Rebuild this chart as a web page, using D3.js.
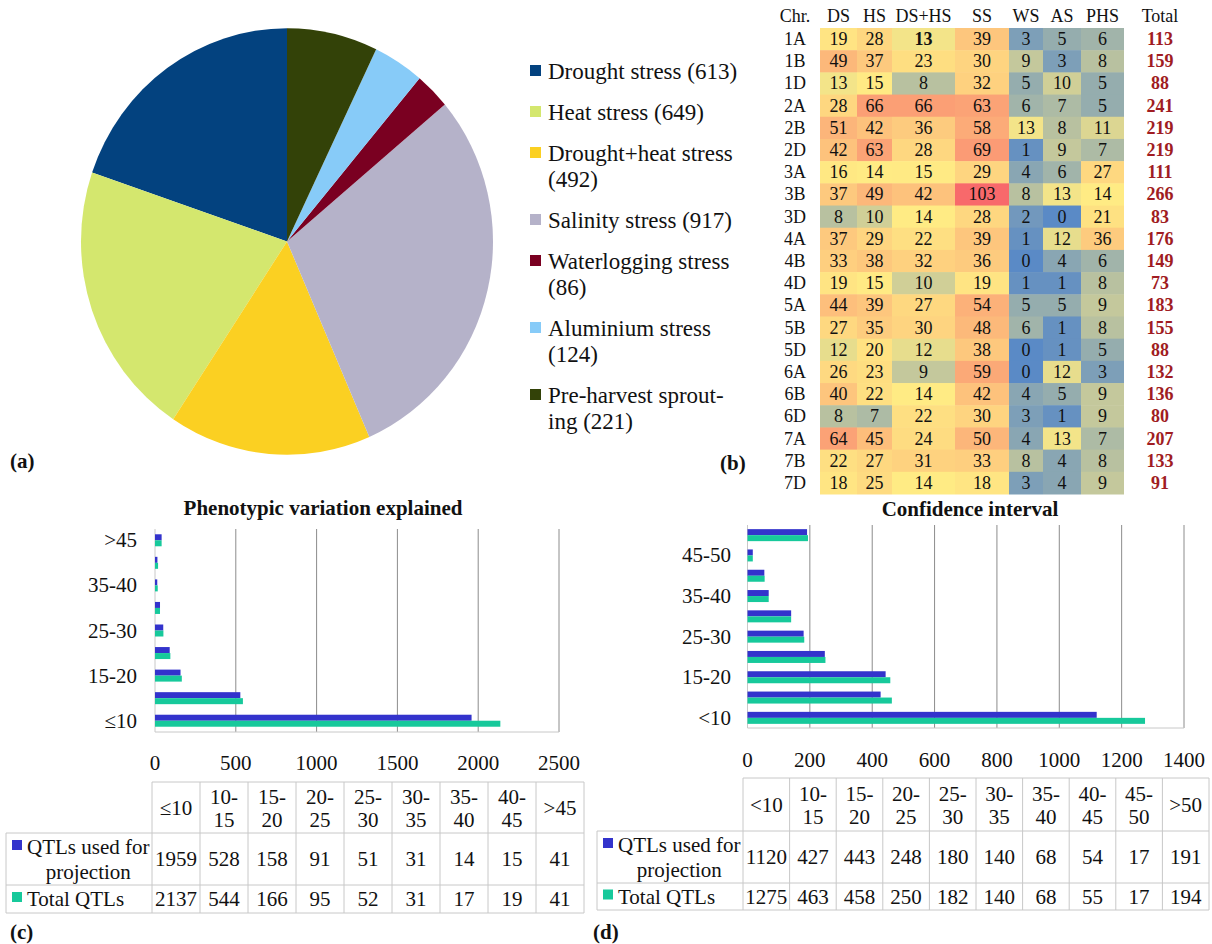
<!DOCTYPE html>
<html>
<head>
<meta charset="utf-8">
<script src="https://cdn.jsdelivr.net/npm/d3@7"></script>
<style>
  body { margin: 0; background: #fff; }
  svg { display: block; }
  text { font-family: "Liberation Serif", "Times New Roman", serif; fill: #111; }
</style>
</head>
<body>
<svg id="fig" width="1212" height="944" font-family="Liberation Serif, Times New Roman, serif"></svg>
<script>
// ---------- (a) QTL counts per stress ----------
const stressNames  = ["Drought stress", "Heat stress", "Drought+heat stress", "Salinity stress",
                      "Waterlogging stress", "Aluminium stress", "Pre-harvest sprouting"];
const stressCounts = [613, 649, 492, 917, 86, 124, 221];
const stressColors = ["#03427f", "#d4e76e", "#fbd022", "#b5b2c9", "#7a0021", "#87cbf8", "#334208"];
// legend wording, "{n}" is replaced with the count
const legendText = [
  ["Drought stress ({n})"],
  ["Heat stress ({n})"],
  ["Drought+heat stress", "({n})"],
  ["Salinity stress ({n})"],
  ["Waterlogging stress", "({n})"],
  ["Aluminium stress", "({n})"],
  ["Pre-harvest sprout-", "ing ({n})"]
];

// ---------- (b) QTLs per chromosome and stress ----------
const chromosomes = ["1A","1B","1D","2A","2B","2D","3A","3B","3D","4A","4B","4D",
                     "5A","5B","5D","6A","6B","6D","7A","7B","7D"];
const stressCodes = ["DS", "HS", "DS+HS", "SS", "WS", "AS", "PHS"];
const qtlDS   = [19,49,13,28,51,42,16,37, 8,37,33,19,44,27,12,26,40, 8,64,22,18];
const qtlHS   = [28,37,15,66,42,63,14,49,10,29,38,15,39,35,20,23,22, 7,45,27,25];
const qtlDSHS = [13,23, 8,66,36,28,15,42,14,22,32,10,27,30,12, 9,14,22,24,31,14];
const qtlSS   = [39,30,32,63,58,69,29,103,28,39,36,19,54,48,38,59,42,30,50,33,18];
const qtlWS   = [ 3, 9, 5, 6,13, 1, 4, 8, 2, 1, 0, 1, 5, 6, 0, 0, 4, 3, 4, 8, 3];
const qtlAS   = [ 5, 3,10, 7, 8, 9, 6,13, 0,12, 4, 1, 5, 1, 1,12, 5, 1,13, 4, 4];
const qtlPHS  = [ 6, 8, 5, 5,11, 7,27,14,21,36, 6, 8, 9, 8, 5, 3, 9, 9, 7, 8, 9];
const boldCells = [["1A", "DS+HS"]];

// ---------- (c) phenotypic variation explained ----------
const pveBins      = ["≤10","10-15","15-20","20-25","25-30","30-35","35-40","40-45",">45"];
const pveProjected = [1959, 528, 158, 91, 51, 31, 14, 15, 41];
const pveTotal     = [2137, 544, 166, 95, 52, 31, 17, 19, 41];

// ---------- (d) confidence interval ----------
const ciBins      = ["<10","10-15","15-20","20-25","25-30","30-35","35-40","40-45","45-50",">50"];
const ciProjected = [1120, 427, 443, 248, 180, 140, 68, 54, 17, 191];
const ciTotal     = [1275, 463, 458, 250, 182, 140, 68, 55, 17, 194];

const seriesNames  = ["QTLs used for projection", "Total QTLs"];
const seriesColors = ["#3333cc", "#17c99b"];

const svg = d3.select("#fig");

// ================= (a) pie =================
(function drawPie() {
  const cx = 287, cy = 241.5, r = 206;
  const pie = d3.pie().sort(null).value(d => d)
    .startAngle(2 * Math.PI).endAngle(0);          // counter-clockwise from 12 o'clock
  const arc = d3.arc().innerRadius(0).outerRadius(r);
  const g = svg.append("g").attr("transform", `translate(${cx},${cy}) scale(1,1.035)`);
  g.selectAll("path").data(pie(stressCounts)).join("path")
    .attr("d", arc)
    .attr("fill", (d, i) => stressColors[i]);

  // legend
  const lg = svg.append("g");
  let y = 71;
  legendText.forEach((lines, i) => {
    lg.append("rect").attr("x", 530).attr("y", y - 6).attr("width", 11).attr("height", 11)
      .attr("fill", stressColors[i]);
    lines.forEach((ln, k) => {
      lg.append("text").attr("x", 548).attr("y", y + k * 26 + 8)
        .style("font-size", "23px")
        .text(ln.replace("{n}", stressCounts[i]));
    });
    y += 41 + 26 * (lines.length - 1);
  });
})();

// ================= (b) heat map =================
(function drawHeatmap() {
  const columns = [qtlDS, qtlHS, qtlDSHS, qtlSS, qtlWS, qtlAS, qtlPHS];
  const edges = [820, 857, 892, 955, 1009, 1043, 1081, 1124];
  const xStart = d3.scaleOrdinal().domain(stressCodes).range(edges.slice(0, -1));
  const xEnd   = d3.scaleOrdinal().domain(stressCodes).range(edges.slice(1));
  const y = d3.scaleBand().domain(chromosomes).range([28, 494]);
  const labelX = 795, totalX = 1160, fs = "18px";

  const all = columns.flat().sort(d3.ascending);
  const color = d3.scaleLinear()
    .domain([all[0], d3.quantileSorted(all, 0.5), all[all.length - 1]])
    .range(["#5a8ac6", "#ffeb84", "#f8696b"])
    .interpolate(d3.interpolateRgb);

  const cells = [];
  chromosomes.forEach((c, ri) => stressCodes.forEach((s, ci) =>
    cells.push({ chr: c, code: s, v: columns[ci][ri] })));

  const g = svg.append("g");
  g.selectAll("rect").data(cells).join("rect")
    .attr("x", d => xStart(d.code))
    .attr("y", d => y(d.chr))
    .attr("width", d => xEnd(d.code) - xStart(d.code))
    .attr("height", y.bandwidth() + 0.5)
    .attr("fill", d => color(d.v));

  const isBold = d => boldCells.some(b => b[0] === d.chr && b[1] === d.code);
  g.selectAll("text.v").data(cells).join("text").attr("class", "v")
    .attr("x", d => (xStart(d.code) + xEnd(d.code)) / 2)
    .attr("y", d => y(d.chr) + y.bandwidth() / 2 + 6)
    .attr("text-anchor", "middle")
    .style("font-size", fs)
    .style("font-weight", d => isBold(d) ? "bold" : "normal")
    .text(d => d.v);

  // headers
  const hy = 22;
  g.append("text").attr("x", labelX).attr("y", hy).attr("text-anchor", "middle")
    .style("font-size", fs).text("Chr.");
  stressCodes.forEach(s => g.append("text")
    .attr("x", (xStart(s) + xEnd(s)) / 2).attr("y", hy).attr("text-anchor", "middle")
    .style("font-size", fs).text(s));
  g.append("text").attr("x", totalX).attr("y", hy).attr("text-anchor", "middle")
    .style("font-size", fs).text("Total");

  // row labels and totals
  chromosomes.forEach((c, ri) => {
    const cy = y(c) + y.bandwidth() / 2 + 6;
    g.append("text").attr("x", labelX).attr("y", cy).attr("text-anchor", "middle")
      .style("font-size", fs).text(c);
    g.append("text").attr("x", totalX).attr("y", cy).attr("text-anchor", "middle")
      .style("font-size", fs).style("font-weight", "bold").style("fill", "#a01c22")
      .text(d3.sum(columns, col => col[ri]));
  });
})();

// ================= (c), (d) bar charts with data tables =================
function barPanel(o) {
  const g = svg.append("g");
  const x = d3.scaleLinear().domain([0, o.max]).range([o.x0, o.x1]);
  const y = d3.scaleBand().domain(o.bins).range([o.yBottom, o.yTop]);
  const ticks = x.ticks(o.nTicks);

  // title
  g.append("text").attr("x", o.titleX).attr("y", o.titleY + 7).attr("text-anchor", "middle")
    .style("font-size", "21px").style("font-weight", "bold").text(o.title);

  // vertical gridlines
  g.selectAll("line.grid").data(ticks.filter(t => t > 0)).join("line")
    .attr("x1", d => x(d)).attr("x2", d => x(d))
    .attr("y1", o.yTop).attr("y2", o.yBottom)
    .attr("stroke", "#8c8c8c").attr("stroke-width", 1);
  // value axis baseline and category axis
  g.append("line").attr("x1", x(0)).attr("x2", x(0)).attr("y1", o.yTop).attr("y2", o.yBottom)
    .attr("stroke", "#c8c8c8");
  g.append("line").attr("x1", x(0)).attr("x2", x(o.max)).attr("y1", o.yBottom).attr("y2", o.yBottom)
    .attr("stroke", "#c8c8c8");

  // tick labels
  g.selectAll("text.tick").data(ticks).join("text").attr("class", "tick")
    .attr("x", d => x(d)).attr("y", o.tickY + 7).attr("text-anchor", "middle")
    .style("font-size", "21px").text(d => d);

  // category labels (every other bin)
  g.selectAll("text.cat").data(o.bins.filter((b, i) => i % 2 === 0)).join("text").attr("class", "cat")
    .attr("x", o.labelX).attr("y", d => y(d) + y.bandwidth() / 2 + 7)
    .attr("text-anchor", "end").style("font-size", "21px").text(d => d);

  // bars
  const h = o.barH;
  [o.projected, o.total].forEach((vals, si) => {
    g.selectAll(null).data(o.bins).join("rect")
      .attr("x", x(0))
      .attr("y", d => y(d) + y.bandwidth() / 2 + (si === 0 ? -h : 0))
      .attr("width", (d, i) => x(vals[i]) - x(0))
      .attr("height", h)
      .attr("fill", seriesColors[si]);
  });

  // data table
  const tx = d3.scaleBand().domain(o.bins).range([o.tx0, o.tx1]);
  const [r0, r1, r2, r3] = o.rows;
  const lc = "#c8c8c8";
  g.append("line").attr("x1", o.tx0).attr("x2", o.tx1).attr("y1", r0).attr("y2", r0).attr("stroke", lc);
  [r1, r2, r3].forEach(ry => g.append("line").attr("x1", o.tl).attr("x2", o.tx1)
    .attr("y1", ry).attr("y2", ry).attr("stroke", lc));
  g.append("line").attr("x1", o.tl).attr("x2", o.tl).attr("y1", r1).attr("y2", r3).attr("stroke", lc);
  o.bins.concat([null]).forEach(b => {
    const xx = b === null ? o.tx1 : tx(b);
    g.append("line").attr("x1", xx).attr("x2", xx).attr("y1", r0).attr("y2", r3).attr("stroke", lc);
  });

  // header cells
  const hc = (r0 + r1) / 2;
  o.bins.forEach(b => {
    const cxp = tx(b) + tx.bandwidth() / 2;
    const m = b.match(/^(\d+)-(\d+)$/);
    if (m) {
      g.append("text").attr("x", cxp).attr("y", hc - 4).attr("text-anchor", "middle")
        .style("font-size", "21px").text(m[1] + "-");
      g.append("text").attr("x", cxp).attr("y", hc + 19).attr("text-anchor", "middle")
        .style("font-size", "21px").text(m[2]);
    } else {
      g.append("text").attr("x", cxp).attr("y", hc + 7).attr("text-anchor", "middle")
        .style("font-size", "21px").text(b);
    }
  });

  // series rows
  const rowMid = [(r1 + r2) / 2, (r2 + r3) / 2];
  [o.projected, o.total].forEach((vals, si) => {
    o.bins.forEach((b, i) => {
      g.append("text").attr("x", tx(b) + tx.bandwidth() / 2).attr("y", rowMid[si] + 7)
        .attr("text-anchor", "middle").style("font-size", "21px").text(vals[i]);
    });
  });

  // row headers with legend keys; the first series wraps onto two lines
  const words = seriesNames[0].split(" ");
  const line1 = words.slice(0, 3).join(" "), line2 = words.slice(3).join(" ");
  const ly1 = rowMid[0] - 12;
  g.append("rect").attr("x", o.tl + 6).attr("y", ly1 - 7).attr("width", 10).attr("height", 10)
    .attr("fill", seriesColors[0]);
  const t1 = g.append("text").attr("x", o.tl + 21).attr("y", ly1 + 7)
    .style("font-size", "21px").text(line1);
  const w1 = t1.node().getComputedTextLength();
  g.append("text").attr("x", o.tl + 21 + w1 / 2).attr("y", ly1 + 32).attr("text-anchor", "middle")
    .style("font-size", "21px").text(line2);

  const ly2 = rowMid[1];
  g.append("rect").attr("x", o.tl + 6).attr("y", ly2 - 7).attr("width", 10).attr("height", 10)
    .attr("fill", seriesColors[1]);
  g.append("text").attr("x", o.tl + 21).attr("y", ly2 + 7)
    .style("font-size", "21px").text(seriesNames[1]);
}

barPanel({
  title: "Phenotypic variation explained", titleX: 323, titleY: 508,
  bins: pveBins, projected: pveProjected, total: pveTotal,
  max: 2500, nTicks: 5, x0: 155, x1: 559, yTop: 529, yBottom: 732,
  barH: 6, tickY: 763, labelX: 137,
  tl: 6, tx0: 152, tx1: 584, rows: [782, 833, 885, 913]
});

barPanel({
  title: "Confidence interval", titleX: 970, titleY: 509,
  bins: ciBins, projected: ciProjected, total: ciTotal,
  max: 1400, nTicks: 7, x0: 747.5, x1: 1184, yTop: 525, yBottom: 728,
  barH: 6, tickY: 760, labelX: 731,
  tl: 597, tx0: 743, tx1: 1209, rows: [778, 831, 883, 910]
});

// panel letters
[["(a)", 10, 461], ["(b)", 720, 463], ["(c)", 10, 932], ["(d)", 593, 932]].forEach(([t, px, py]) =>
  svg.append("text").attr("x", px).attr("y", py + 7)
    .style("font-size", "21px").style("font-weight", "bold").text(t));
</script>
</body>
</html>
